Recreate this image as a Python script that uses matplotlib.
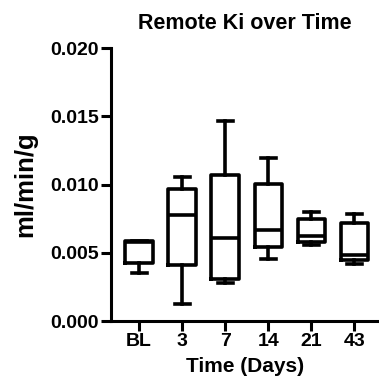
import matplotlib
matplotlib.use("Agg")
import matplotlib.pyplot as plt

plt.rcParams["font.family"] = ["Liberation Sans", "DejaVu Sans"]
plt.rcParams["font.weight"] = "bold"

# Box plot summary values (min to max whiskers)
days = ["BL", "3", "7", "14", "21", "43"]
mins = [0.00349, 0.00125, 0.00281, 0.00455, 0.00555, 0.00420]
q1s = [0.00428, 0.00411, 0.00305, 0.00540, 0.00582, 0.00447]
medians = [0.00582, 0.00777, 0.00611, 0.00667, 0.00620, 0.00485]
q3s = [0.00585, 0.00968, 0.01070, 0.01004, 0.00745, 0.00721]
maxs = [0.00587, 0.01053, 0.01466, 0.01193, 0.00802, 0.00785]

stats = [
    dict(label=d, whislo=lo, q1=a, med=m, q3=b, whishi=hi, fliers=[])
    for d, lo, a, m, b, hi in zip(days, mins, q1s, medians, q3s, maxs)
]

fig = plt.figure(figsize=(3.79, 3.89), dpi=100)
ax = fig.add_axes([0.292, 0.1748, 0.708, 0.701])

lw = 2.6
ax.bxp(stats, positions=range(1, 7), widths=0.64, capwidths=0.35,
       showfliers=False,
       boxprops=dict(color="black", linewidth=lw),
       whiskerprops=dict(color="black", linewidth=lw),
       capprops=dict(color="black", linewidth=lw),
       medianprops=dict(color="black", linewidth=lw))

ax.set_xlim(0.34, 6.57)
ax.set_ylim(0, 0.020)
ax.set_yticks([0, 0.005, 0.010, 0.015, 0.020])
ax.set_yticklabels(["0.000", "0.005", "0.010", "0.015", "0.020"])
ax.set_xticks(range(1, 7))
ax.set_xticklabels(days)

for s in ["top", "right"]:
    ax.spines[s].set_visible(False)
for s in ["left", "bottom"]:
    ax.spines[s].set_linewidth(2.2)

ax.tick_params(axis="both", width=2.2, length=7, labelsize=14, pad=1.5)
for lab in ax.get_xticklabels() + ax.get_yticklabels():
    lab.set_fontweight("bold")

ax.set_title("Remote Ki over Time", fontsize=15.5, fontweight="bold", pad=14)
ax.set_xlabel("Time (Days)", fontsize=15, fontweight="bold", labelpad=5)
ax.set_ylabel("ml/min/g", fontsize=18.5, fontweight="bold", labelpad=9)

fig.savefig("out.png", dpi=100)
